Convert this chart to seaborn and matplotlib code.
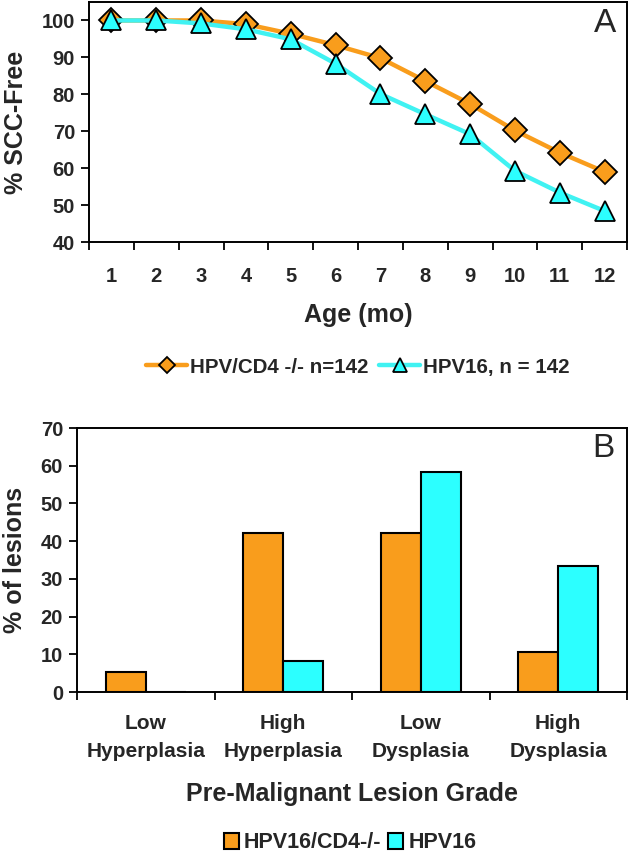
import matplotlib
matplotlib.use("Agg")
import matplotlib.pyplot as plt
import seaborn as sns
import pandas as pd
import numpy as np
from matplotlib.lines import Line2D
from matplotlib.patches import Patch

# ---------------- data ----------------
months = [1, 2, 3, 4, 5, 6, 7, 8, 9, 10, 11, 12]
cd4_free = [100, 100, 100, 99.0, 96.4, 93.3, 89.8, 83.6, 77.4, 70.2, 64.2, 59.0]
hpv16_free = [100, 100, 99.2, 97.6, 94.9, 88.3, 80.1, 74.6, 69.2, 59.3, 53.4, 48.4]
line_labels = ["HPV/CD4 -/- n=142", "HPV16, n = 142"]

grades = ["Low\nHyperplasia", "High\nHyperplasia", "Low\nDysplasia", "High\nDysplasia"]
cd4_lesions = [5.3, 42.1, 42.1, 10.5]
hpv16_lesions = [0.0, 8.3, 58.3, 33.3]
bar_labels = ["HPV16/CD4-/-", "HPV16"]

ORANGE = "#F99D1C"
CYAN = "#2CFFFF"
LCYAN = "#40F2F2"

sns.set_theme(style="white")
plt.rcParams["font.family"] = ["Liberation Sans", "DejaVu Sans"]
plt.rcParams["font.weight"] = "bold"

fig = plt.figure(figsize=(6.3, 8.52), dpi=100)

# ---------------- panel A ----------------
axA = fig.add_axes([89 / 630, 1 - 242 / 852, (627 - 89) / 630, (242 - 2) / 852])
dfA = pd.DataFrame({
    "Age": months * 2,
    "pct": cd4_free + hpv16_free,
    "group": [line_labels[0]] * len(months) + [line_labels[1]] * len(months),
})
sns.lineplot(data=dfA, x="Age", y="pct", hue="group", style="group",
             palette=[ORANGE, LCYAN], markers=["D", "^"], dashes=False,
             markersize=12, linewidth=3.2, markeredgecolor="black",
             markeredgewidth=1.3, ax=axA, legend=False)
axA.lines[1].set_markersize(15)
axA.lines[1].set_markerfacecolor(CYAN)
axA.set_xlim(0.5, 12.5)
axA.set_ylim(40, 105)
axA.set_xticks(months)
axA.set_xticklabels([str(m) for m in months])
axA.set_xticks(np.arange(0.5, 13, 1), minor=True)
axA.set_yticks([40, 50, 60, 70, 80, 90, 100])
axA.tick_params(axis="x", which="major", length=0, pad=18, labelsize=14.5)
axA.tick_params(axis="x", which="minor", length=6, width=1.3, color="black", direction="out", bottom=True)
axA.tick_params(axis="y", which="major", length=6, width=1.3, color="black", direction="out", left=True, labelsize=14.5, pad=4)
for lab in axA.get_xticklabels() + axA.get_yticklabels():
    lab.set_fontweight("bold")
axA.set_xlabel("Age (mo)", fontsize=18, fontweight="bold", labelpad=12)
axA.set_ylabel("% SCC-Free", fontsize=18, fontweight="bold", labelpad=10)
for s in axA.spines.values():
    s.set_color("black")
    s.set_linewidth(1.4)
axA.text(605 / 630, 1 - 24 / 852, "A", transform=fig.transFigure, fontsize=24,
         fontweight="normal", ha="center", va="center")

hA = [Line2D([0], [0], color=ORANGE, lw=3.2, marker="D", markersize=8,
             markerfacecolor=ORANGE, markeredgecolor="black", markeredgewidth=1.3),
      Line2D([0], [0], color=LCYAN, lw=3.2, marker="^", markersize=10,
             markerfacecolor=CYAN, markeredgecolor="black", markeredgewidth=1.3)]
fig.legend(hA, line_labels, loc="center", bbox_to_anchor=(358 / 630, 1 - 367 / 852),
           ncol=2, frameon=False, handlelength=2.0, handletextpad=0.15,
           columnspacing=0.5, prop={"weight": "bold", "size": 14.8})

# ---------------- panel B ----------------
axB = fig.add_axes([77 / 630, 1 - 692 / 852, (627 - 77) / 630, (692 - 428) / 852])
dfB = pd.DataFrame({
    "grade": grades * 2,
    "pct": cd4_lesions + hpv16_lesions,
    "group": [bar_labels[0]] * len(grades) + [bar_labels[1]] * len(grades),
})
sns.barplot(data=dfB, x="grade", y="pct", hue="group", palette=[ORANGE, CYAN],
            width=0.58, edgecolor="black", linewidth=1.5, ax=axB, legend=False,
            saturation=1)
axB.set_xlim(-0.5, 3.5)
axB.set_ylim(0, 70)
axB.set_yticks(range(0, 71, 10))
axB.set_xticks(range(4))
axB.set_xticklabels(grades)
axB.set_xticks(np.arange(-0.5, 4, 1), minor=True)
axB.tick_params(axis="x", which="major", length=0, pad=16, labelsize=15)
axB.tick_params(axis="x", which="minor", length=6, width=1.3, color="black", direction="out", bottom=True)
axB.tick_params(axis="y", which="major", length=6, width=1.3, color="black", direction="out", left=True, labelsize=14.5, pad=4)
for lab in axB.get_xticklabels() + axB.get_yticklabels():
    lab.set_fontweight("bold")
for lab in axB.get_xticklabels():
    lab.set_linespacing(1.6)
axB.set_xlabel("Pre-Malignant Lesion Grade", fontsize=18, fontweight="bold", labelpad=15)
axB.set_ylabel("% of lesions", fontsize=18, fontweight="bold", labelpad=10)
for s in axB.spines.values():
    s.set_color("black")
    s.set_linewidth(1.4)
axB.text(603 / 630, 1 - 448 / 852, "B", transform=fig.transFigure, fontsize=24,
         fontweight="normal", ha="center", va="center")

hB = [Patch(facecolor=ORANGE, edgecolor="black", linewidth=1.5),
      Patch(facecolor=CYAN, edgecolor="black", linewidth=1.5)]
fig.legend(hB, bar_labels, loc="center", bbox_to_anchor=(350 / 630, 1 - 843 / 852),
           ncol=2, frameon=False, handlelength=0.7, handleheight=0.7,
           handletextpad=0.25, columnspacing=0.3, prop={"weight": "bold", "size": 15.5})

fig.savefig("out.png", dpi=100)
